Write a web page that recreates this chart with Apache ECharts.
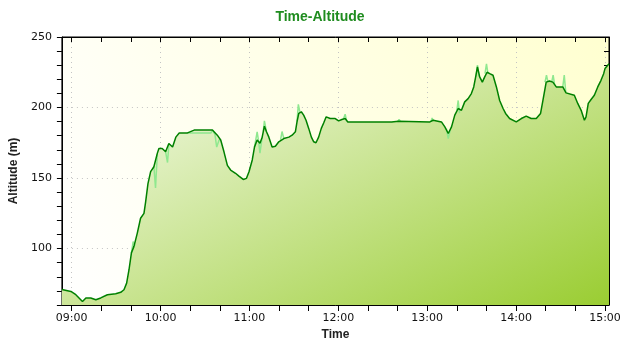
<!DOCTYPE html>
<html><head><meta charset="utf-8">
<script src="https://cdn.jsdelivr.net/npm/echarts@6/dist/echarts.min.js"></script>
<style>html,body{margin:0;padding:0;background:#fff}#c{width:640px;height:350px}</style>
</head><body><div id="c"></div>
<script>
// ---- data ----
const chartTitle = 'Time-Altitude';
const xName = 'Time';
const yName = 'Altitude (m)';
const yMin = 60, yMax = 250, yStep = 10, yLabelEvery = 50;

// smoothed track (dark green line + filled area)
const times = ["08:53:24","08:59:30","09:02:48","09:07:18","09:09:36","09:12:54","09:16:18","09:19:36","09:24:06","09:29:42",
"09:33:06","09:35:18","09:37:06","09:38:42","09:40:18","09:42:00","09:44:18","09:46:30","09:48:48","09:49:54",
"09:51:30","09:53:18","09:55:30","09:57:48","09:58:54","10:01:06","10:03:24","10:05:36","10:08:06","10:10:18",
"10:12:36","10:18:12","10:22:42","10:35:00","10:36:06","10:38:18","10:40:36","10:42:48","10:45:06","10:47:18",
"10:50:36","10:52:54","10:55:48","10:58:00","10:59:42","11:01:54","11:03:24","11:05:12","11:07:06","11:08:36",
"11:10:06","11:11:30","11:13:06","11:15:18","11:17:30","11:19:48","11:23:12","11:26:36","11:28:48","11:31:00",
"11:32:06","11:33:18","11:35:00","11:36:36","11:38:12","11:40:00","11:41:48","11:43:24","11:44:54","11:46:42",
"11:48:30","11:50:06","11:51:48","11:54:30","11:57:54","12:00:12","12:02:24","12:04:36","12:06:24","12:36:00",
"12:40:30","13:01:48","13:04:00","13:09:36","13:11:54","13:14:12","13:16:24","13:18:36","13:20:54","13:23:06",
"13:25:18","13:27:36","13:29:48","13:31:24","13:32:42","13:33:54","13:35:24","13:37:12","13:38:48","13:40:24",
"13:42:12","13:44:24","13:46:42","13:48:54","13:51:12","13:52:54","13:55:36","14:00:06","14:03:30","14:06:48",
"14:10:12","14:13:36","14:16:30","14:18:06","14:20:18","14:22:30","14:24:48","14:27:06","14:31:30","14:33:42",
"14:39:18","14:41:36","14:43:54","14:46:06","14:47:12","14:48:42","14:50:36","14:52:48","14:55:06","14:57:18",
"14:59:06","15:00:00","15:02:42"];
const altitude = [71,69.6,67.3,62.5,65,65,63.7,65,67.3,68,
69,70.8,75.5,85,96.8,101.4,111,121.5,125,133,
146,154.5,158,167.5,171,171,168.6,174.5,172,179,
182,182,184,184,182.8,180.4,177,168.6,159,155.7,
153.4,151.4,149,149.8,154.5,162.8,172,177,174.6,179,
186.8,182.8,179,172,172.6,175.7,178,179,180.4,182.8,
189.8,195.8,197,194.6,191,185.2,179,175.7,175,179,
185.2,189,193.4,192.2,192.2,190.5,191.5,192.2,189.8,189.8,
190.3,189.8,191,189.8,186.3,181.6,186.3,194.6,199.3,198,
204,206.3,209.9,214.6,221.7,228.8,221.7,218,221.7,225,
224,222.9,214.6,205,199.3,195.8,192.2,189.8,192.2,193.9,
192.2,192.2,195.8,205,218,218.8,218,214.6,214.6,210.4,
208.7,202.9,198,191,193.4,202.9,205.7,208.7,214.6,219.3,
224,227.6,231];

// raw track spikes (light green), null = gap
const rawTimes = ["09:40:18","09:41:30","09:42:48",null,
"09:55:30","09:56:36","09:57:48",null,
"10:03:24","10:04:42","10:05:36",null,
"10:18:12","10:34:00","10:35:00","10:36:42","10:37:54","10:39:30","10:40:36",null,
"11:03:24","11:05:12","11:06:12","11:07:06","11:08:36",null,
"11:09:20","11:10:06","11:11:30",null,
"11:21:00","11:22:00","11:23:12",null,
"11:32:06","11:33:00","11:34:00",null,
"12:03:30","12:04:36","12:05:30",null,
"12:40:00","12:41:00","12:42:00",null,
"13:02:30","13:03:18","13:04:00",null,
"13:12:54","13:14:12","13:15:30",null,
"13:20:00","13:20:54","13:21:48",null,
"13:33:00","13:33:54","13:35:00",null,
"13:39:00","13:40:00","13:41:00",null,
"14:19:30","14:20:30","14:21:30",null,
"14:24:00","14:25:00","14:26:00",null,
"14:31:30","14:32:30","14:33:30"];
const rawAltitude = [96.8,105,102,null,
158,143,167,null,
168.6,161,173.4,null,
182,182,184,181,172,177,177,null,
172,182.8,176,167.6,179,null,
183,190.5,182.8,null,
177,183,178,null,
190,202.3,197,null,
192,195.3,191,null,
190,191.5,190,null,
190,192.5,191,null,
185,178,184,null,
198,205,196,null,
222,230,222,null,
224,231,224,null,
218,223,218,null,
218,223,216,null,
214.6,223,211];

// ---- build ----
const day = '2024-01-01T';
const toMs = t => new Date(day + t).getTime();
const mainData = times.map((t, i) => [toMs(t), altitude[i]]);
const rawData = rawTimes.map((t, i) => t === null ? [toMs(rawTimes[i-1]) + 1, '-'] : [toMs(t), rawAltitude[i]]);
const xMin = toMs(times[0]);
const xMax = toMs(times[times.length - 1]);
const pad = n => (n < 10 ? '0' : '') + n;
const HALF_HOUR = 30 * 60 * 1000;
const HOUR = 60 * 60 * 1000;
const font = '"DejaVu Sans", sans-serif';
const boldFont = '"Liberation Sans", Arial, sans-serif';
const gridDots = {color: '#c4c4c4', type: [1, 4], width: 1};

const chart = echarts.init(document.getElementById('c'), null, {renderer: 'canvas'});
const G = echarts.graphic.LinearGradient;
chart.setOption({
  animation: false,
  backgroundColor: '#ffffff',
  title: {
    text: chartTitle, left: 'center', top: 10, padding: 0,
    textStyle: {color: '#1f8c1f', fontSize: 14, fontWeight: 'bold', fontFamily: boldFont}
  },
  grid: {
    left: 59, right: 31, top: 37, bottom: 45, show: true,
    borderColor: '#000', borderWidth: 1,
    backgroundColor: new G(0, 1, 1, 0, [{offset: 0, color: '#ffffff'}, {offset: 1, color: '#ffffd0'}])
  },
  xAxis: [{
    type: 'time', min: xMin, max: xMax, position: 'bottom',
    minInterval: HALF_HOUR, maxInterval: HALF_HOUR,
    name: xName, nameLocation: 'middle', nameGap: 21,
    nameTextStyle: {fontWeight: 'bold', fontSize: 12, color: '#222', fontFamily: boldFont},
    axisLine: {show: true, lineStyle: {color: '#000', width: 1}},
    axisTick: {show: true, inside: false, length: 6, lineStyle: {color: '#000'}},
    axisLabel: {
      margin: 8, fontSize: 11, color: '#111', fontFamily: font, hideOverlap: false,
      formatter: v => { const d = new Date(v); return (d.getMinutes() === 0 && d.getSeconds() === 0) ? pad(d.getHours()) + ':00' : ''; }
    },
    splitLine: {show: false}
  }, {
    type: 'time', min: xMin, max: xMax, position: 'top',
    minInterval: HALF_HOUR, maxInterval: HALF_HOUR,
    axisLine: {show: true, lineStyle: {color: '#000', width: 1}},
    axisTick: {show: true, inside: true, length: 5, lineStyle: {color: '#000'}},
    axisLabel: {show: false}, splitLine: {show: false}
  }, {
    type: 'time', min: xMin, max: xMax, position: 'top',
    minInterval: HOUR, maxInterval: HOUR,
    axisLine: {show: false}, axisTick: {show: false}, axisLabel: {show: false},
    splitLine: {show: true, lineStyle: gridDots}
  }],
  yAxis: [{
    type: 'value', min: yMin, max: yMax, interval: yStep, position: 'left',
    name: yName, nameLocation: 'middle', nameGap: 38,
    nameTextStyle: {fontWeight: 'bold', fontSize: 12, color: '#222', fontFamily: boldFont},
    axisLine: {show: true, lineStyle: {color: '#000', width: 1}},
    axisTick: {show: true, inside: false, length: 5, lineStyle: {color: '#000'}},
    axisLabel: {margin: 10, fontSize: 11, color: '#111', fontFamily: font, formatter: v => (v % yLabelEvery === 0 ? String(v) : '')},
    splitLine: {show: true, lineStyle: Object.assign({}, gridDots, {color: ['rgba(0,0,0,0)','rgba(0,0,0,0)','rgba(0,0,0,0)','rgba(0,0,0,0)','#c4c4c4']})}
  }, {
    type: 'value', min: yMin, max: yMax, interval: yStep, position: 'right',
    axisLine: {show: true, lineStyle: {color: '#000', width: 1}},
    axisTick: {show: true, inside: true, length: 5, lineStyle: {color: '#000'}},
    axisLabel: {show: false}, splitLine: {show: false}
  }],
  series: [{
    type: 'line', data: mainData, symbol: 'none', silent: true, z: 2,
    lineStyle: {width: 0},
    areaStyle: {opacity: 1, color: new G(59, 36, 276, 471, [{offset: 0, color: '#ffffff'}, {offset: 1, color: '#9acd32'}], true)}
  }, {
    type: 'line', data: rawData, symbol: 'none', silent: true, z: 3, connectNulls: false,
    lineStyle: {width: 1.5, color: '#8fe88f'}
  }, {
    type: 'line', data: mainData, symbol: 'none', silent: true, z: 4,
    lineStyle: {width: 1.5, color: '#008000'}
  }]
});
</script>
</body></html>
